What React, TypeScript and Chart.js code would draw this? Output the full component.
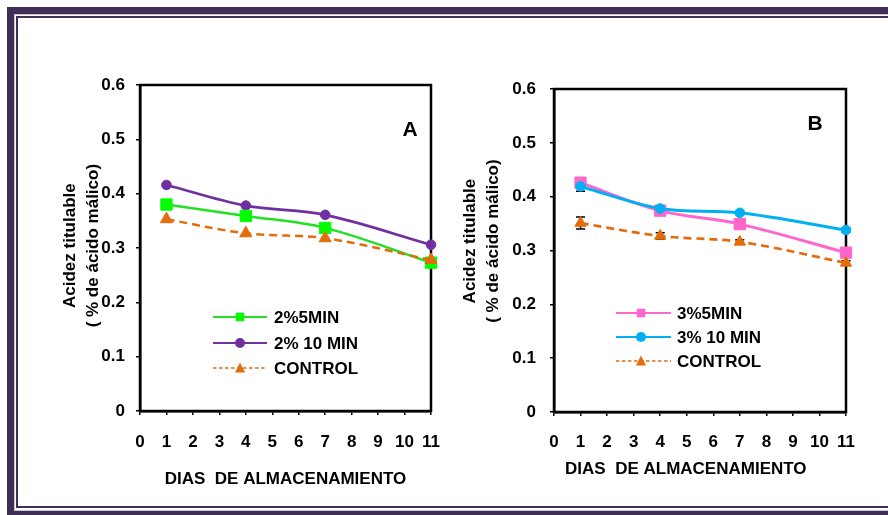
import React, { useEffect, useRef } from "react";
import { Chart, registerables } from "chart.js";

Chart.register(...registerables);

const FONT = "'Liberation Sans', Arial, Helvetica, sans-serif";
Chart.defaults.font.family = FONT;

// ---- data ----
const DAYS = [1, 4, 7, 11];
const X_TICKS = [0, 1, 2, 3, 4, 5, 6, 7, 8, 9, 10, 11];
const Y_TICKS = [0, 0.1, 0.2, 0.3, 0.4, 0.5, 0.6];

const A_LABELS = ["2%5MIN", "2% 10 MIN", "CONTROL"];
const A_5MIN = [0.38, 0.359, 0.337, 0.273];
const A_10MIN = [0.416, 0.378, 0.361, 0.306];
const A_CONTROL = [0.353, 0.327, 0.318, 0.278];

const B_LABELS = ["3%5MIN", "3% 10 MIN", "CONTROL"];
const B_5MIN = [0.426, 0.374, 0.349, 0.296];
const B_10MIN = [0.419, 0.378, 0.37, 0.338];
const B_CONTROL = [0.351, 0.327, 0.316, 0.277];
const B_10MIN_ERR = [0.009, 0.003, 0.003, 0.004];
const B_CONTROL_ERR = [0.011, 0.006, 0.004, 0.004];

const X_TITLE = "DIAS  DE ALMACENAMIENTO";
const Y_TITLE = ["Acidez titulable", "( % de ácido málico)"];

// ---- styles ----
const GREEN = "#22e022";
const GREEN_FILL = "#00ff00";
const PURPLE = "#7030a0";
const ORANGE = "#e46c0a";
const PINK = "#ff66cc";
const BLUE = "#00b0f0";

type Shape = "rect" | "circle" | "triangle";

function drawMarker(ctx: CanvasRenderingContext2D, shape: Shape, x: number, y: number, size: number, color: string) {
  ctx.save();
  ctx.fillStyle = color;
  ctx.setLineDash([]);
  ctx.beginPath();
  if (shape === "rect") {
    ctx.rect(x - size / 2, y - size / 2, size, size);
  } else if (shape === "circle") {
    ctx.arc(x, y, size / 2, 0, Math.PI * 2);
  } else {
    const h = size * 0.9;
    ctx.moveTo(x, y - h / 2 - 1);
    ctx.lineTo(x + size / 2, y + h / 2);
    ctx.lineTo(x - size / 2, y + h / 2);
    ctx.closePath();
  }
  ctx.fill();
  ctx.restore();
}

const decoPlugin = {
  id: "deco",
  beforeDatasetsDraw(chart: any) {
    const { ctx, chartArea: a, scales } = chart;
    ctx.save();
    ctx.strokeStyle = "#000";
    ctx.lineWidth = 2.5;
    ctx.strokeRect(a.left, a.top, a.right - a.left, a.bottom - a.top);
    chart.data.datasets.forEach((ds: any, i: number) => {
      if (!ds.errors) return;
      const meta = chart.getDatasetMeta(i);
      ds.data.forEach((pt: any, j: number) => {
        const e = ds.errors[j];
        if (!e) return;
        const x = meta.data[j].x;
        const y1 = scales.y.getPixelForValue(pt.y + e);
        const y2 = scales.y.getPixelForValue(pt.y - e);
        ctx.lineWidth = 1.5;
        ctx.strokeStyle = "#000";
        ctx.beginPath();
        ctx.moveTo(x, y1);
        ctx.lineTo(x, y2);
        ctx.moveTo(x - 4.5, y1);
        ctx.lineTo(x + 4.5, y1);
        ctx.moveTo(x - 4.5, y2);
        ctx.lineTo(x + 4.5, y2);
        ctx.stroke();
      });
    });
    ctx.restore();
  },
  afterDatasetsDraw(chart: any, _args: any, opts: any) {
    const { ctx } = chart;
    const lg = opts.legend;
    ctx.save();
    chart.data.datasets.forEach((ds: any, i: number) => {
      const y = lg.rows[i];
      ctx.strokeStyle = ds.borderColor;
      ctx.lineWidth = ds.legendWidth;
      ctx.setLineDash(ds.legendDash || []);
      ctx.beginPath();
      ctx.moveTo(lg.x0, y);
      ctx.lineTo(lg.x1, y);
      ctx.stroke();
      drawMarker(ctx, ds.pointStyle, lg.mx, y, ds.legendSize, ds.pointBackgroundColor);
      ctx.fillStyle = "#000";
      ctx.font = `bold 17px ${FONT}`;
      ctx.textBaseline = "middle";
      ctx.textAlign = "left";
      ctx.fillText(ds.label, lg.tx, y + 1);
    });
    const L = opts.letter;
    ctx.font = `bold 21px ${FONT}`;
    ctx.textAlign = "center";
    ctx.textBaseline = "middle";
    ctx.fillStyle = "#000";
    ctx.fillText(L.text, L.x, L.y);
    ctx.restore();
  },
};

interface SeriesDef {
  label: string;
  values: number[];
  errors?: number[];
  color: string;
  fill: string;
  shape: Shape;
  radius: number;
  width: number;
  dash?: number[];
  order: number;
  legendSize: number;
  legendWidth: number;
  legendDash?: number[];
}

interface PanelDef {
  series: SeriesDef[];
  canvasW: number;
  top: number;
  right: number;
  yAxisW: number;
  xAxisH: number;
  yTickPad: number;
  xTickPad: number;
  xTitlePad: number;
  yTitlePad: number;
  xTitle: string;
  yTitle: string[];
  legend: { x0: number; x1: number; mx: number; tx: number; rows: number[] };
  letter: { text: string; x: number; y: number };
}

function buildConfig(p: PanelDef): any {
  const tickFont = { size: 17, weight: "bold" as const };
  return {
    type: "line",
    data: {
      datasets: p.series.map((s) => ({
        label: s.label,
        data: DAYS.map((d, i) => ({ x: d, y: s.values[i] })),
        errors: s.errors,
        order: s.order,
        borderColor: s.color,
        backgroundColor: s.fill,
        pointBackgroundColor: s.fill,
        pointBorderColor: s.fill,
        pointStyle: s.shape,
        pointRadius: s.radius,
        pointBorderWidth: 1,
        borderWidth: s.width,
        borderDash: s.dash || [],
        tension: 0.35,
        clip: false,
        legendSize: s.legendSize,
        legendWidth: s.legendWidth,
        legendDash: s.legendDash,
      })),
    },
    options: {
      animation: false,
      responsive: false,
      events: [],
      layout: { padding: { top: p.top, right: p.right, left: 0, bottom: 0 } },
      plugins: {
        legend: { display: false },
        tooltip: { enabled: false },
        deco: { legend: p.legend, letter: p.letter },
      },
      scales: {
        x: {
          type: "linear",
          min: 0,
          max: 11,
          afterFit: (s: any) => {
            s.height = p.xAxisH;
          },
          afterBuildTicks: (s: any) => {
            s.ticks = X_TICKS.map((v) => ({ value: v }));
          },
          ticks: { autoSkip: false, maxRotation: 0, padding: p.xTickPad, color: "#000", font: tickFont },
          grid: { drawOnChartArea: false, drawTicks: true, tickLength: 4, color: "#000", lineWidth: 1.5 },
          border: { display: true, color: "#000", width: 2.5 },
          title: {
            display: true,
            text: p.xTitle,
            color: "#000",
            font: { size: 17, weight: "bold" },
            padding: { top: 0, bottom: p.xTitlePad },
          },
        },
        y: {
          type: "linear",
          min: 0,
          max: 0.6,
          afterFit: (s: any) => {
            s.width = p.yAxisW;
          },
          afterBuildTicks: (s: any) => {
            s.ticks = Y_TICKS.map((v) => ({ value: v }));
          },
          ticks: {
            padding: p.yTickPad,
            color: "#000",
            font: tickFont,
            callback: (v: any) => String(Math.round(v * 10) / 10),
          },
          grid: { drawOnChartArea: false, drawTicks: true, tickLength: 4, color: "#000", lineWidth: 1.5 },
          border: { display: true, color: "#000", width: 2.5 },
          title: {
            display: true,
            text: p.yTitle,
            color: "#000",
            font: { size: 17, weight: "bold", lineHeight: 23 / 17 },
            padding: { top: p.yTitlePad, bottom: 0 },
          },
        },
      },
    },
    plugins: [decoPlugin],
  };
}

const PANEL_A: PanelDef = {
  series: [
    { label: A_LABELS[0], values: A_5MIN, color: GREEN, fill: GREEN_FILL, shape: "rect", radius: 8, width: 2.5, order: 1, legendSize: 8.5, legendWidth: 1.8 },
    { label: A_LABELS[1], values: A_10MIN, color: PURPLE, fill: PURPLE, shape: "circle", radius: 4.8, width: 2.7, order: 2, legendSize: 10, legendWidth: 1.8 },
    { label: A_LABELS[2], values: A_CONTROL, color: ORANGE, fill: ORANGE, shape: "triangle", radius: 7, width: 2.5, dash: [8, 5], order: 0, legendSize: 10, legendWidth: 1.5, legendDash: [3.5, 2.5] },
  ],
  canvasW: 460,
  top: 85,
  right: 29,
  yAxisW: 140,
  xAxisH: 104,
  yTickPad: 11,
  xTickPad: 17,
  xTitlePad: 25.8,
  yTitlePad: 58.5,
  xTitle: X_TITLE,
  yTitle: Y_TITLE.map((t) => " " + t),
  legend: { x0: 213, x1: 267, mx: 240, tx: 274, rows: [317, 343, 368] },
  letter: { text: "A", x: 410, y: 130 },
};

const PANEL_B: PanelDef = {
  series: [
    { label: B_LABELS[0], values: B_5MIN, color: PINK, fill: PINK, shape: "rect", radius: 8, width: 3, order: 2, legendSize: 8.5, legendWidth: 1.8 },
    { label: B_LABELS[1], values: B_10MIN, errors: B_10MIN_ERR, color: BLUE, fill: BLUE, shape: "circle", radius: 4.8, width: 3, order: 0, legendSize: 10, legendWidth: 1.8 },
    { label: B_LABELS[2], values: B_CONTROL, errors: B_CONTROL_ERR, color: ORANGE, fill: ORANGE, shape: "triangle", radius: 6.5, width: 2.7, dash: [8, 5], order: 1, legendSize: 10, legendWidth: 1.5, legendDash: [3.5, 2.5] },
  ],
  canvasW: 444,
  top: 89,
  right: 42,
  yAxisW: 110,
  xAxisH: 103,
  yTickPad: 14,
  xTickPad: 16,
  xTitlePad: 35.8,
  yTitlePad: 14.5,
  xTitle: X_TITLE + "      ",
  yTitle: Y_TITLE.map((t) => "    " + t),
  legend: { x0: 172, x1: 227, mx: 197, tx: 233, rows: [313, 337, 361] },
  letter: { text: "B", x: 371, y: 124 },
};

function Panel({ p, left }: { p: PanelDef; left: number }) {
  const ref = useRef<HTMLCanvasElement>(null);
  useEffect(() => {
    const chart = new Chart(ref.current as HTMLCanvasElement, buildConfig(p));
    return () => chart.destroy();
  }, [p]);
  return (
    <canvas
      ref={ref}
      width={p.canvasW}
      height={515}
      style={{ position: "absolute", left, top: 0, width: p.canvasW, height: 515 }}
    />
  );
}

const FRAME = "#3e3054";

export default function App() {
  return (
    <div
      style={{
        position: "fixed",
        left: 0,
        top: 0,
        width: 888,
        height: 515,
        overflow: "hidden",
        background: "#fff",
      }}
    >
      <Panel p={PANEL_A} left={0} />
      <Panel p={PANEL_B} left={444} />
      <div
        style={{
          position: "absolute",
          left: 7,
          top: 7,
          width: 1000,
          height: 511,
          boxSizing: "border-box",
          border: `7px solid ${FRAME}`,
          borderRight: "none",
          pointerEvents: "none",
        }}
      />
      <div
        style={{
          position: "absolute",
          left: 14,
          top: 14,
          width: 1000,
          height: 497,
          boxSizing: "border-box",
          border: "1px solid #c9c0d6",
          borderRight: "none",
          pointerEvents: "none",
        }}
      />
      <div
        style={{
          position: "absolute",
          left: 16,
          top: 16,
          width: 1000,
          height: 492,
          boxSizing: "border-box",
          border: `2px solid ${FRAME}`,
          borderRight: "none",
          pointerEvents: "none",
        }}
      />
    </div>
  );
}
